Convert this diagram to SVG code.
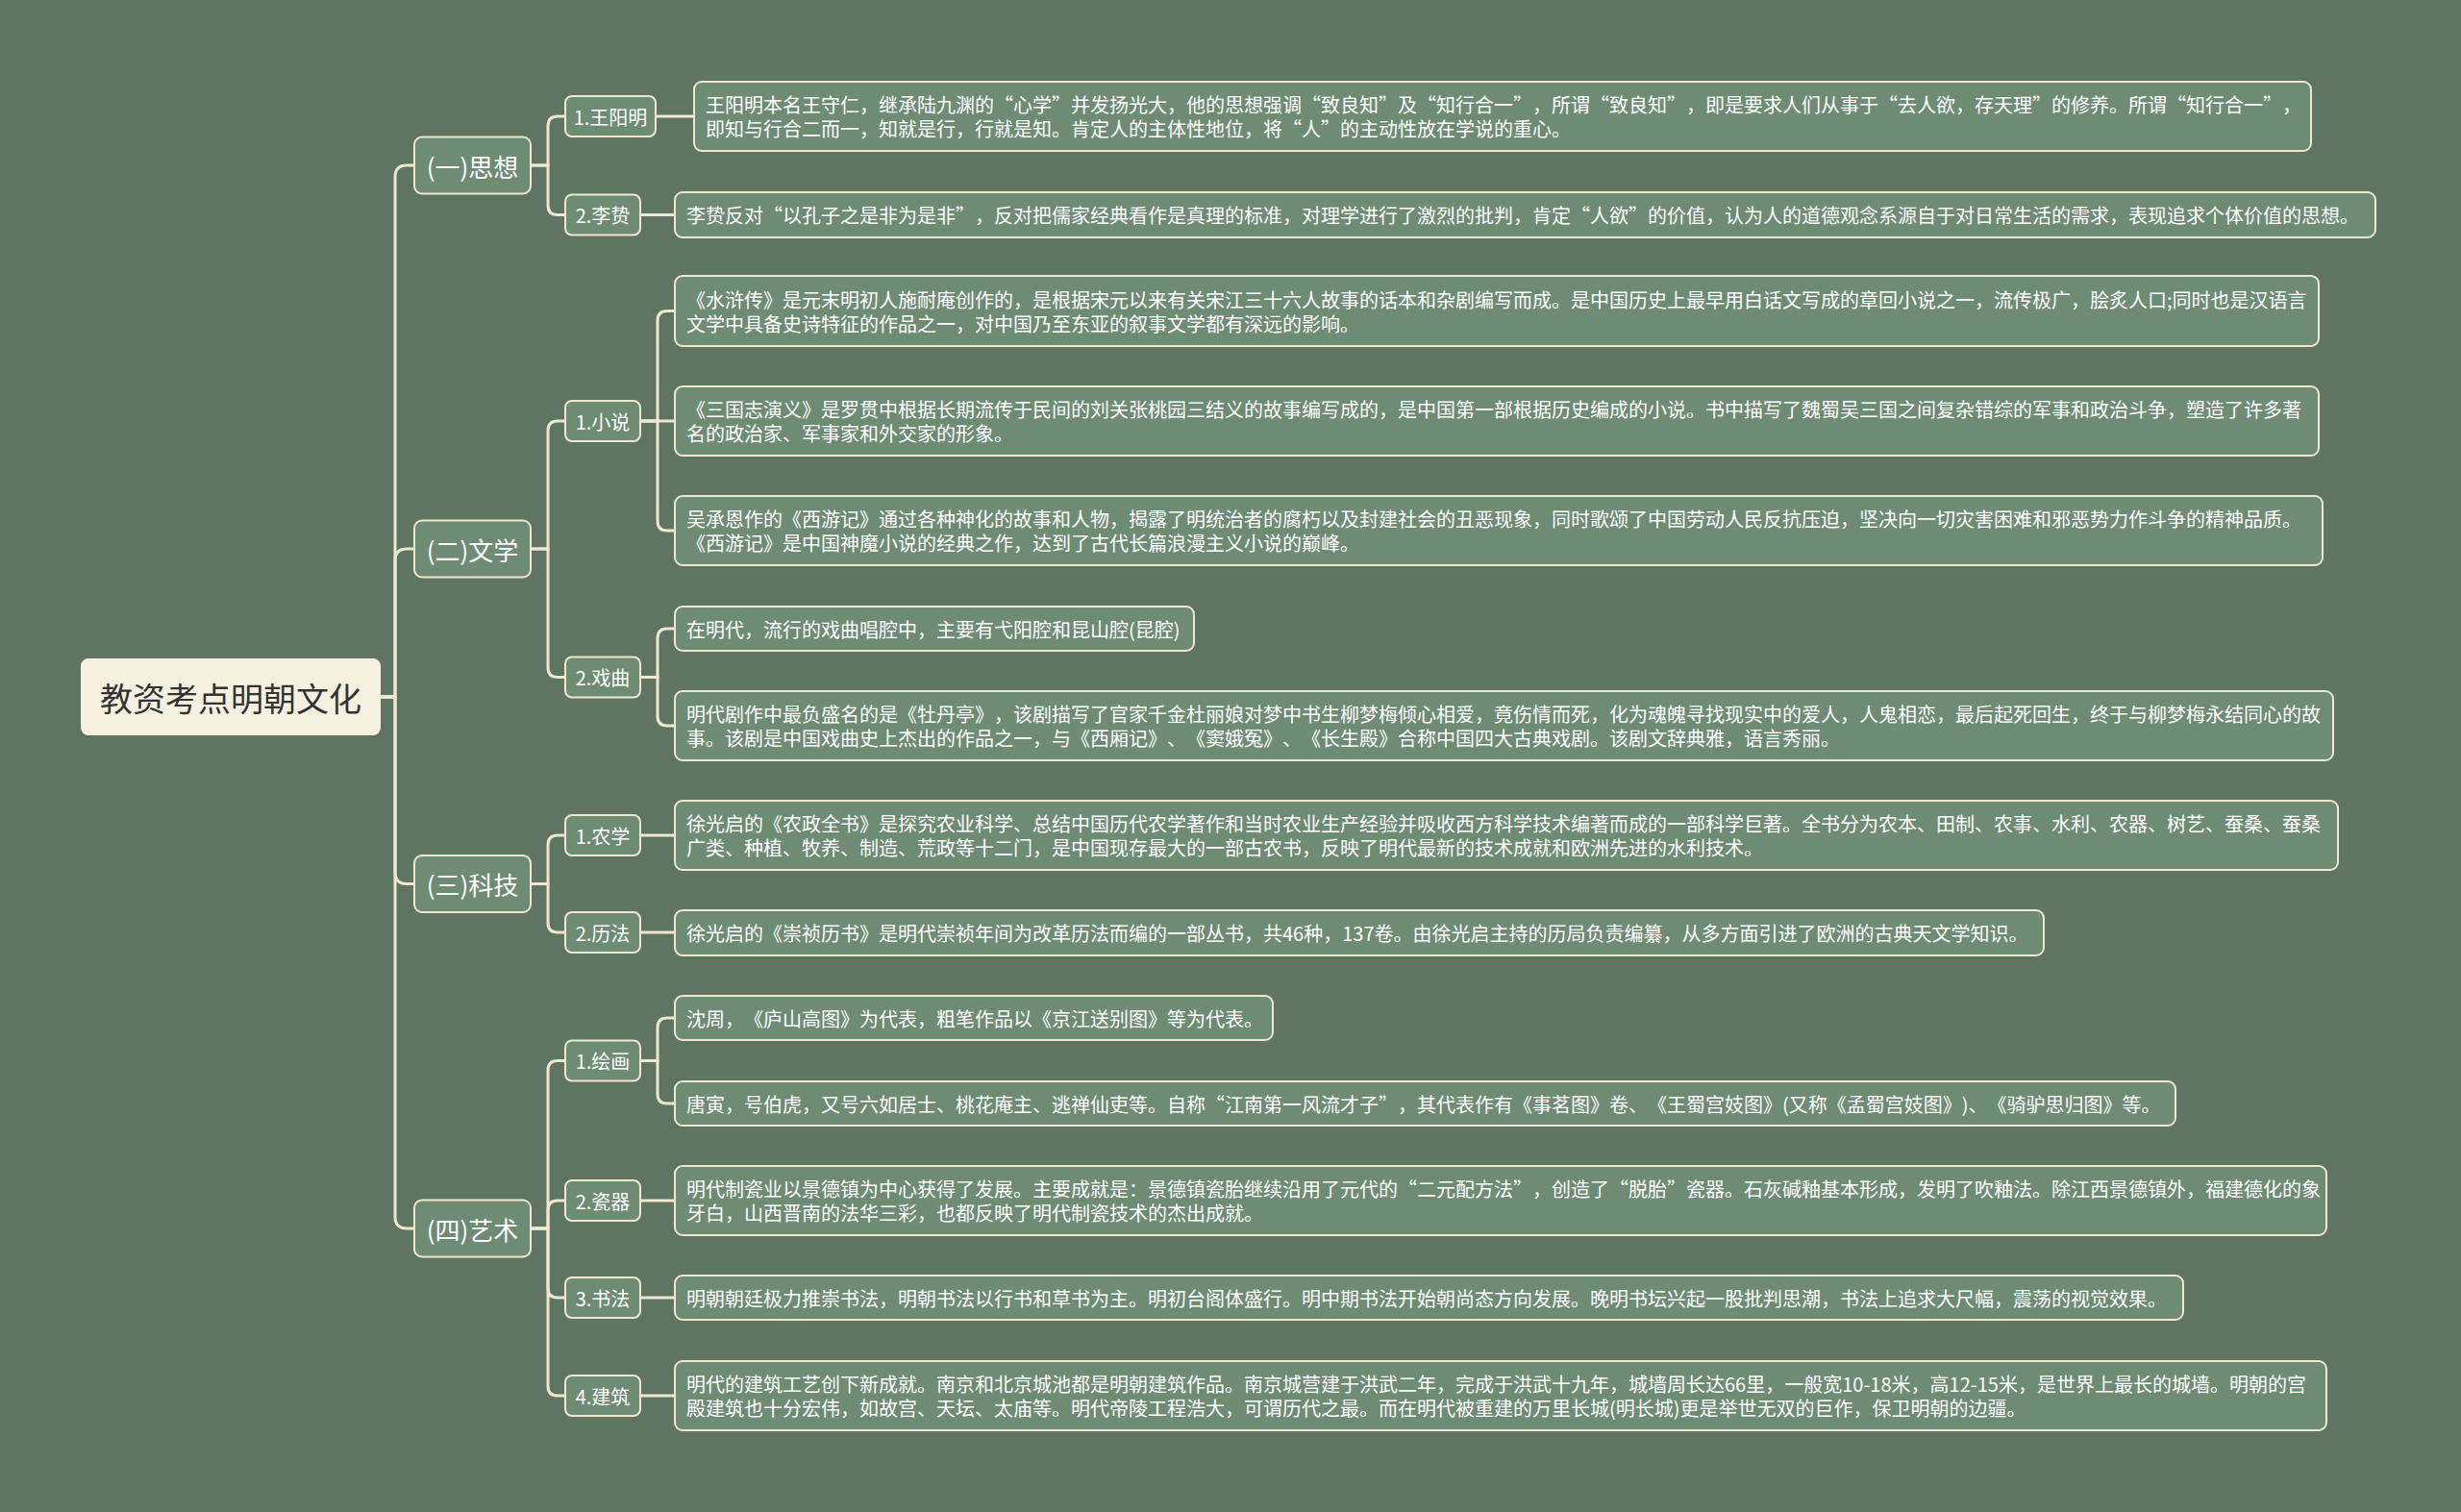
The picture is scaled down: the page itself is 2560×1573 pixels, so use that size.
<svg xmlns="http://www.w3.org/2000/svg" width="2560" height="1573" viewBox="0 0 2560 1573">
<style>
.conn{fill:none;stroke:#eee8d2;stroke-width:3;stroke-linecap:round}
.box{fill:#6e8b74;stroke:#eee8d2;stroke-width:2}
.root{fill:#f6f0e0;stroke:#f6f0e0;stroke-width:2}
.t{font-family:"Noto Sans CJK SC","Noto Sans",sans-serif;fill:#ffffff;font-size:20px;dominant-baseline:central;text-spacing-trim:space-all}
.l1{font-size:26px;text-anchor:middle}
.l2{text-anchor:middle}
.rt{font-family:"Noto Sans CJK SC","Noto Sans",sans-serif;fill:#333333;font-size:34px;text-anchor:middle;dominant-baseline:central}
</style>
<rect x="0" y="0" width="2560" height="1573" fill="#607462"/>
<g id="connectors">
<path class="conn" d="M395,725 H411 V184 Q411,172 423,172 H431"/>
<path class="conn" d="M395,725 H411 V583 Q411,571 423,571 H431"/>
<path class="conn" d="M395,725 H411 V907.5 Q411,919.5 423,919.5 H431"/>
<path class="conn" d="M395,725 H411 V1266 Q411,1278 423,1278 H431"/>
<path class="conn" d="M552,172 H570 V131 Q570,121 580,121 H588"/>
<path class="conn" d="M552,172 H570 V213.5 Q570,223.5 580,223.5 H588"/>
<path class="conn" d="M552,571 H570 V448 Q570,438 580,438 H588"/>
<path class="conn" d="M552,571 H570 V694.5 Q570,704.5 580,704.5 H588"/>
<path class="conn" d="M552,919.5 H570 V879 Q570,869 580,869 H588"/>
<path class="conn" d="M552,919.5 H570 V960 Q570,970 580,970 H588"/>
<path class="conn" d="M552,1278 H570 V1113.5 Q570,1103.5 580,1103.5 H588"/>
<path class="conn" d="M552,1278 H570 V1259 Q570,1249 580,1249 H588"/>
<path class="conn" d="M552,1278 H570 V1340 Q570,1350 580,1350 H588"/>
<path class="conn" d="M552,1278 H570 V1442 Q570,1452 580,1452 H588"/>
<path class="conn" d="M682,121 H722"/>
<path class="conn" d="M666,223.5 H702"/>
<path class="conn" d="M666,438 H684 V333.5 Q684,323.5 694,323.5 H702"/>
<path class="conn" d="M666,438 H702"/>
<path class="conn" d="M666,438 H684 V542 Q684,552 694,552 H702"/>
<path class="conn" d="M666,704.5 H684 V664 Q684,654 694,654 H702"/>
<path class="conn" d="M666,704.5 H684 V745 Q684,755 694,755 H702"/>
<path class="conn" d="M666,869 H702"/>
<path class="conn" d="M666,970 H702"/>
<path class="conn" d="M666,1103.5 H684 V1069 Q684,1059 694,1059 H702"/>
<path class="conn" d="M666,1103.5 H684 V1138 Q684,1148 694,1148 H702"/>
<path class="conn" d="M666,1249 H702"/>
<path class="conn" d="M666,1350 H702"/>
<path class="conn" d="M666,1452 H702"/>
</g>
<g id="root"><rect class="root" x="85" y="686" width="310" height="78" rx="7"/><text class="rt" x="240" y="725">教资考点明朝文化</text></g>
<g id="b1"><rect class="box" x="431" y="142.5" width="121" height="59" rx="8"/><text class="t l1" x="491.5" y="172">(一)思想</text></g>
<g id="b2"><rect class="box" x="431" y="541.5" width="121" height="59" rx="8"/><text class="t l1" x="491.5" y="571">(二)文学</text></g>
<g id="b3"><rect class="box" x="431" y="890" width="121" height="59" rx="8"/><text class="t l1" x="491.5" y="919.5">(三)科技</text></g>
<g id="b4"><rect class="box" x="431" y="1248.5" width="121" height="59" rx="8"/><text class="t l1" x="491.5" y="1278">(四)艺术</text></g>
<g id="n11"><rect class="box" x="588" y="100" width="94" height="42" rx="7"/><text class="t l2" x="635" y="121">1.王阳明</text></g>
<g id="n12"><rect class="box" x="588" y="202.5" width="78" height="42" rx="7"/><text class="t l2" x="627" y="223.5">2.李贽</text></g>
<g id="n21"><rect class="box" x="588" y="417" width="78" height="42" rx="7"/><text class="t l2" x="627" y="438">1.小说</text></g>
<g id="n22"><rect class="box" x="588" y="683.5" width="78" height="42" rx="7"/><text class="t l2" x="627" y="704.5">2.戏曲</text></g>
<g id="n31"><rect class="box" x="588" y="848" width="78" height="42" rx="7"/><text class="t l2" x="627" y="869">1.农学</text></g>
<g id="n32"><rect class="box" x="588" y="949" width="78" height="42" rx="7"/><text class="t l2" x="627" y="970">2.历法</text></g>
<g id="n41"><rect class="box" x="588" y="1082.5" width="78" height="42" rx="7"/><text class="t l2" x="627" y="1103.5">1.绘画</text></g>
<g id="n42"><rect class="box" x="588" y="1228" width="78" height="42" rx="7"/><text class="t l2" x="627" y="1249">2.瓷器</text></g>
<g id="n43"><rect class="box" x="588" y="1329" width="78" height="42" rx="7"/><text class="t l2" x="627" y="1350">3.书法</text></g>
<g id="n44"><rect class="box" x="588" y="1431" width="78" height="42" rx="7"/><text class="t l2" x="627" y="1452">4.建筑</text></g>
<g id="leaf1"><rect class="box" x="722" y="85" width="1682" height="72" rx="8"/><text class="t" x="734" y="108.5">王阳明本名王守仁，继承陆九渊的“心学”并发扬光大，他的思想强调“致良知”及“知行合一”，所谓“致良知”，即是要求人们从事于“去人欲，存天理”的修养。所谓“知行合一”，</text><text class="t" x="734" y="133.5">即知与行合二而一，知就是行，行就是知。肯定人的主体性地位，将“人”的主动性放在学说的重心。</text></g>
<g id="leaf2"><rect class="box" x="702" y="200" width="1769" height="47" rx="8"/><text class="t" x="714" y="223.5">李贽反对“以孔子之是非为是非”，反对把儒家经典看作是真理的标准，对理学进行了激烈的批判，肯定“人欲”的价值，认为人的道德观念系源自于对日常生活的需求，表现追求个体价值的思想。</text></g>
<g id="leaf3"><rect class="box" x="702" y="287" width="1710" height="73" rx="8"/><text class="t" x="714" y="311">《水浒传》是元末明初人施耐庵创作的，是根据宋元以来有关宋江三十六人故事的话本和杂剧编写而成。是中国历史上最早用白话文写成的章回小说之一，流传极广，脍炙人口;同时也是汉语言</text><text class="t" x="714" y="336">文学中具备史诗特征的作品之一，对中国乃至东亚的叙事文学都有深远的影响。</text></g>
<g id="leaf4"><rect class="box" x="702" y="402" width="1710" height="72" rx="8"/><text class="t" x="714" y="425.5">《三国志演义》是罗贯中根据长期流传于民间的刘关张桃园三结义的故事编写成的，是中国第一部根据历史编成的小说。书中描写了魏蜀吴三国之间复杂错综的军事和政治斗争，塑造了许多著</text><text class="t" x="714" y="450.5">名的政治家、军事家和外交家的形象。</text></g>
<g id="leaf5"><rect class="box" x="702" y="516" width="1714" height="72" rx="8"/><text class="t" x="714" y="539.5">吴承恩作的《西游记》通过各种神化的故事和人物，揭露了明统治者的腐朽以及封建社会的丑恶现象，同时歌颂了中国劳动人民反抗压迫，坚决向一切灾害困难和邪恶势力作斗争的精神品质。</text><text class="t" x="714" y="564.5">《西游记》是中国神魔小说的经典之作，达到了古代长篇浪漫主义小说的巅峰。</text></g>
<g id="leaf6"><rect class="box" x="702" y="631" width="540" height="46" rx="8"/><text class="t" x="714" y="654">在明代，流行的戏曲唱腔中，主要有弋阳腔和昆山腔(昆腔)</text></g>
<g id="leaf7"><rect class="box" x="702" y="719" width="1725" height="72" rx="8"/><text class="t" x="714" y="742.5">明代剧作中最负盛名的是《牡丹亭》，该剧描写了官家千金杜丽娘对梦中书生柳梦梅倾心相爱，竟伤情而死，化为魂魄寻找现实中的爱人，人鬼相恋，最后起死回生，终于与柳梦梅永结同心的故</text><text class="t" x="714" y="767.5">事。该剧是中国戏曲史上杰出的作品之一，与《西厢记》、《窦娥冤》、《长生殿》合称中国四大古典戏剧。该剧文辞典雅，语言秀丽。</text></g>
<g id="leaf8"><rect class="box" x="702" y="833" width="1730" height="72" rx="8"/><text class="t" x="714" y="856.5">徐光启的《农政全书》是探究农业科学、总结中国历代农学著作和当时农业生产经验并吸收西方科学技术编著而成的一部科学巨著。全书分为农本、田制、农事、水利、农器、树艺、蚕桑、蚕桑</text><text class="t" x="714" y="881.5">广类、种植、牧养、制造、荒政等十二门，是中国现存最大的一部古农书，反映了明代最新的技术成就和欧洲先进的水利技术。</text></g>
<g id="leaf9"><rect class="box" x="702" y="947" width="1424" height="47" rx="8"/><text class="t" x="714" y="970.5">徐光启的《崇祯历书》是明代崇祯年间为改革历法而编的一部丛书，共46种，137卷。由徐光启主持的历局负责编纂，从多方面引进了欧洲的古典天文学知识。</text></g>
<g id="leaf10"><rect class="box" x="702" y="1036" width="622" height="46" rx="8"/><text class="t" x="714" y="1059">沈周，《庐山高图》为代表，粗笔作品以《京江送别图》等为代表。</text></g>
<g id="leaf11"><rect class="box" x="702" y="1125" width="1561" height="46" rx="8"/><text class="t" x="714" y="1148">唐寅，号伯虎，又号六如居士、桃花庵主、逃禅仙吏等。自称“江南第一风流才子”，其代表作有《事茗图》卷、《王蜀宫妓图》(又称《孟蜀宫妓图》)、《骑驴思归图》等。</text></g>
<g id="leaf12"><rect class="box" x="702" y="1213" width="1718" height="72" rx="8"/><text class="t" x="714" y="1236.5">明代制瓷业以景德镇为中心获得了发展。主要成就是：景德镇瓷胎继续沿用了元代的“二元配方法”，创造了“脱胎”瓷器。石灰碱釉基本形成，发明了吹釉法。除江西景德镇外，福建德化的象</text><text class="t" x="714" y="1261.5">牙白，山西晋南的法华三彩，也都反映了明代制瓷技术的杰出成就。</text></g>
<g id="leaf13"><rect class="box" x="702" y="1327" width="1569" height="46" rx="8"/><text class="t" x="714" y="1350">明朝朝廷极力推崇书法，明朝书法以行书和草书为主。明初台阁体盛行。明中期书法开始朝尚态方向发展。晚明书坛兴起一股批判思潮，书法上追求大尺幅，震荡的视觉效果。</text></g>
<g id="leaf14"><rect class="box" x="702" y="1416" width="1718" height="72" rx="8"/><text class="t" x="714" y="1439.5">明代的建筑工艺创下新成就。南京和北京城池都是明朝建筑作品。南京城营建于洪武二年，完成于洪武十九年，城墙周长达66里，一般宽10-18米，高12-15米，是世界上最长的城墙。明朝的宫</text><text class="t" x="714" y="1464.5">殿建筑也十分宏伟，如故宫、天坛、太庙等。明代帝陵工程浩大，可谓历代之最。而在明代被重建的万里长城(明长城)更是举世无双的巨作，保卫明朝的边疆。</text></g>
</svg>
